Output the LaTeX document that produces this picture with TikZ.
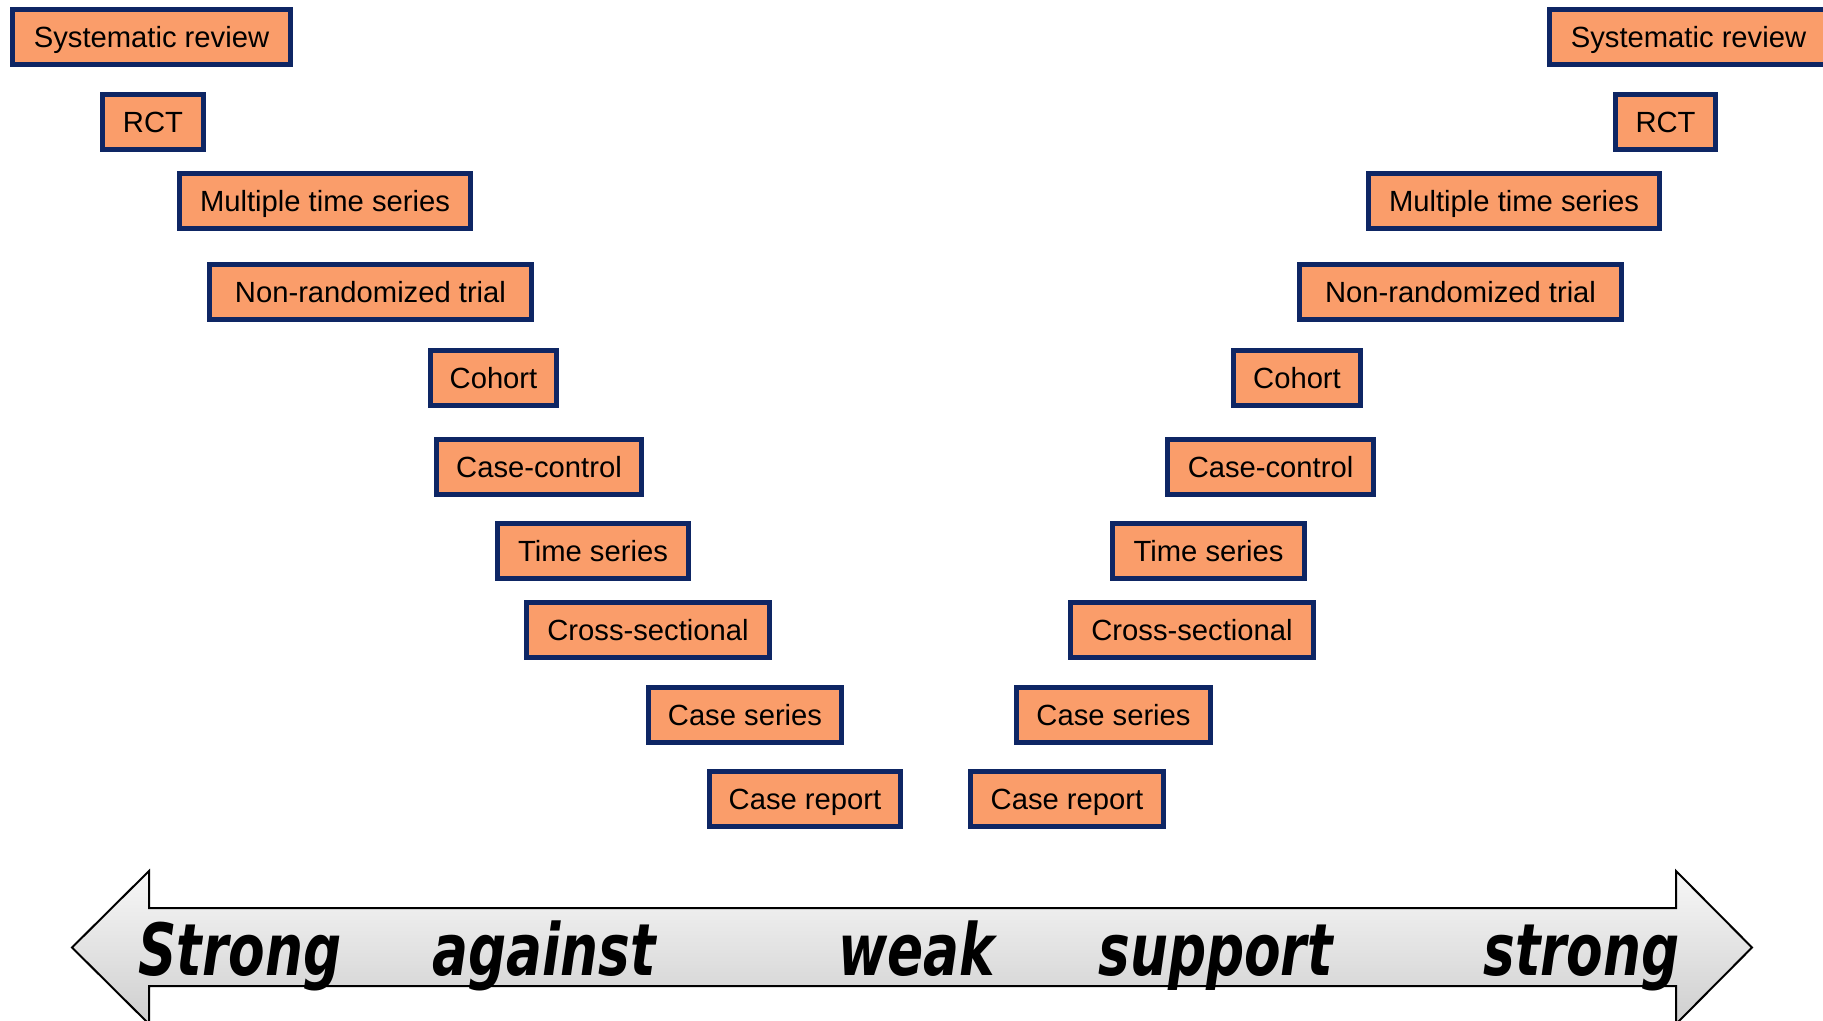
\documentclass[tikz,border=0pt]{standalone}
\usepackage{fontspec}
\setmainfont{Liberation Sans}
\newfontfamily\arrowfont[FakeStretch=0.74]{DejaVu Sans}
\definecolor{boxorange}{RGB}{250,157,106}
\definecolor{boxblue}{RGB}{14,38,100}
\begin{document}
\begin{tikzpicture}[x=0.5pt,y=-0.5pt,
  ebox/.style={draw=boxblue, fill=boxorange, line width=2.5pt, minimum height=27.5pt,
    inner sep=0pt, text height=10.5pt, text depth=0pt, font=\fontsize{14.6}{17}\selectfont},
  arrowtxt/.style={inner sep=0pt, anchor=base west,
    font=\arrowfont\bfseries\itshape\fontsize{36}{40}\selectfont}]
\useasboundingbox (0,0) rectangle (1823,1021);
\clip (0,0) rectangle (1823,1021);
% left column
\node[ebox, minimum width=139pt]   (l1)  at (151.5,37)   {Systematic review};
\node[ebox, minimum width=50.5pt]  (l2)  at (153,122.5)  {RCT};
\node[ebox, minimum width=145.5pt] (l3)  at (325,201)    {Multiple time series};
\node[ebox, minimum width=161pt]   (l4)  at (370.5,292)  {Non-randomized trial};
\node[ebox, minimum width=63pt]    (l5)  at (493.5,377.5){Cohort};
\node[ebox, minimum width=102.5pt] (l6)  at (539,466.5)  {Case-control};
\node[ebox, minimum width=95.5pt]  (l7)  at (593,550.5)  {Time series};
\node[ebox, minimum width=121.5pt] (l8)  at (648,629.5)  {Cross-sectional};
\node[ebox, minimum width=96.5pt]  (l9)  at (745,714.5)  {Case series};
\node[ebox, minimum width=95.5pt]  (l10) at (805,798.5)  {Case report};
% right column
\node[ebox, minimum width=139pt]   (r1)  at (1688.5,37)   {Systematic review};
\node[ebox, minimum width=50pt]    (r2)  at (1665.5,122.5){RCT};
\node[ebox, minimum width=145.5pt] (r3)  at (1514,201)    {Multiple time series};
\node[ebox, minimum width=161pt]   (r4)  at (1460.5,292)  {Non-randomized trial};
\node[ebox, minimum width=63.5pt]  (r5)  at (1297,377.5)  {Cohort};
\node[ebox, minimum width=103pt]   (r6)  at (1270.5,466.5){Case-control};
\node[ebox, minimum width=96pt]    (r7)  at (1208.5,550.5){Time series};
\node[ebox, minimum width=121.5pt] (r8)  at (1192,629.5)  {Cross-sectional};
\node[ebox, minimum width=97pt]    (r9)  at (1113.5,714.5){Case series};
\node[ebox, minimum width=96.5pt]  (r10) at (1067,798.5)  {Case report};
% double arrow
\draw[line width=1pt, top color=gray!6, bottom color=gray!38]
  (72,947.5) -- (149,871) -- (149,908) -- (1676,908) -- (1676,871) -- (1752,947.5)
  -- (1676,1024) -- (1676,986) -- (149,986) -- (149,1024) -- cycle;
\node[arrowtxt] (t1) at (138,975)  {Strong};
\node[arrowtxt] (t2) at (432,975)  {against};
\node[arrowtxt] (t3) at (838,975)  {weak};
\node[arrowtxt] (t4) at (1098,975) {support};
\node[arrowtxt] (t5) at (1483,975) {strong};
\end{tikzpicture}
\end{document}
